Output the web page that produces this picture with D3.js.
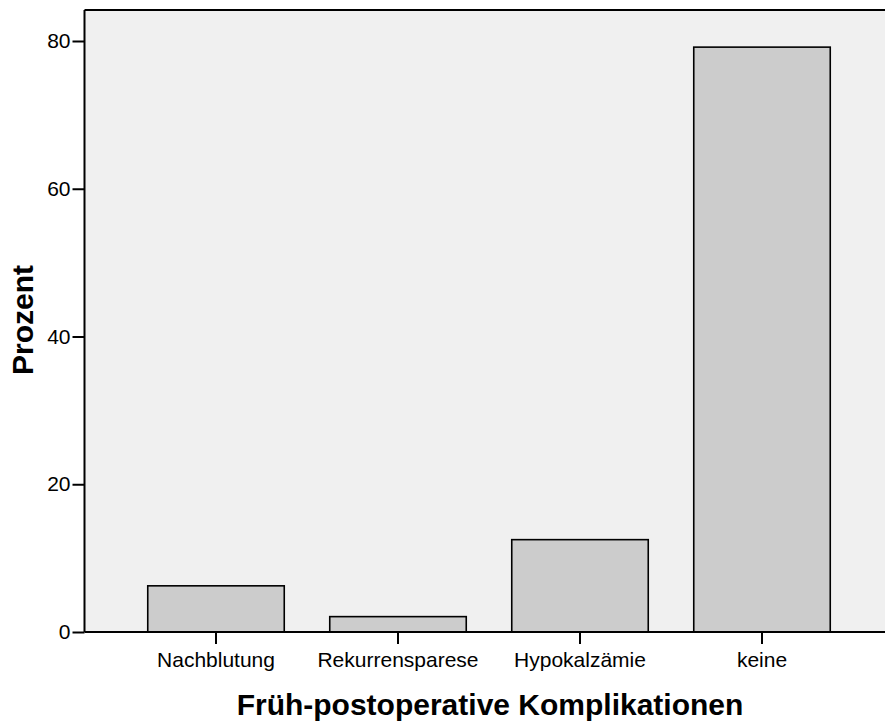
<!DOCTYPE html>
<html>
<head>
<meta charset="utf-8">
<script src="https://cdn.jsdelivr.net/npm/d3@7"></script>
<style>
  body { margin: 0; background: #fff; }
  text { font-family: "Liberation Sans", Arial, sans-serif; }
</style>
</head>
<body>
<script>
// data
const categories = ['Nachblutung', 'Rekurrensparese', 'Hypokalzämie', 'keine'];
const percents = [6.25, 2.08, 12.5, 79.17];
const yTicks = [0, 20, 40, 60, 80];

const width = 885;
const height = 726;

const svg = d3.select('body')
  .append('svg')
  .attr('width', width)
  .attr('height', height);

const plot = { left: 84.5, top: 10, right: 900, bottom: 632 };

// scales
const x = d3.scaleBand()
  .domain(categories)
  .range([125, 853])
  .paddingInner(0.25)
  .paddingOuter(0.125);

const y = d3.scaleLinear()
  .domain([0, 80])
  .range([plot.bottom, 41]);

// plot background
svg.append('rect')
  .attr('x', plot.left)
  .attr('y', plot.top)
  .attr('width', plot.right - plot.left)
  .attr('height', plot.bottom - plot.top)
  .attr('fill', '#f0f0f0');

// bars
svg.selectAll(null)
  .data(categories)
  .join('rect')
  .attr('x', (d) => x(d))
  .attr('y', (d, i) => y(percents[i]))
  .attr('width', x.bandwidth())
  .attr('height', (d, i) => y(0) - y(percents[i]))
  .attr('fill', '#cccccc')
  .attr('stroke', '#000')
  .attr('stroke-width', 1.6);

// top border
svg.append('line')
  .attr('x1', plot.left).attr('x2', plot.right)
  .attr('y1', plot.top).attr('y2', plot.top)
  .attr('stroke', '#000').attr('stroke-width', 2);

// y axis
const yAxis = svg.append('g')
  .attr('transform', `translate(${plot.left},0)`)
  .call(d3.axisLeft(y).tickValues(yTicks).tickSize(12).tickPadding(2));
yAxis.select('.domain')
  .attr('d', `M0,${plot.top}V${plot.bottom}`)
  .attr('stroke-width', 2);

// x axis
const xAxis = svg.append('g')
  .attr('transform', `translate(0,${plot.bottom})`)
  .call(d3.axisBottom(x).tickSize(12).tickPadding(8));
xAxis.select('.domain')
  .attr('d', `M${plot.left},0H${plot.right}`)
  .attr('stroke-width', 2);

svg.selectAll('.tick line').attr('stroke-width', 2);
svg.selectAll('.tick text')
  .attr('fill', '#000')
  .style('font-size', '21px')
  .style('font-family', '"Liberation Sans", Arial, sans-serif');

// axis titles
svg.append('text')
  .attr('x', 490)
  .attr('y', 715)
  .attr('text-anchor', 'middle')
  .style('font-size', '30px')
  .style('font-weight', 'bold')
  .text('Früh-postoperative Komplikationen');

svg.append('text')
  .attr('transform', 'translate(33,320) rotate(-90)')
  .attr('text-anchor', 'middle')
  .style('font-size', '30px')
  .style('font-weight', 'bold')
  .text('Prozent');
</script>
</body>
</html>
